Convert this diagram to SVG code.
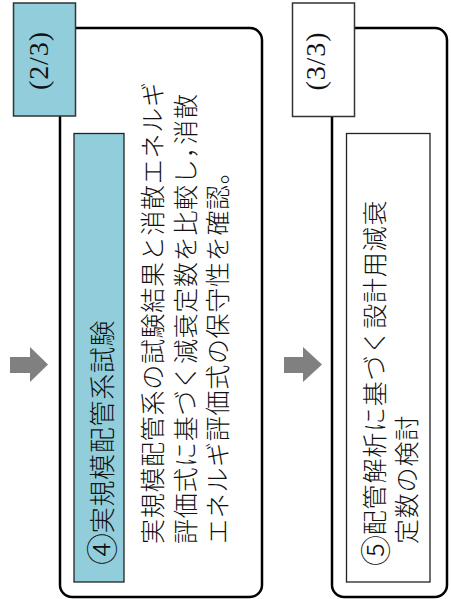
<svg xmlns="http://www.w3.org/2000/svg" width="451" height="599" viewBox="0 0 451 599">
<style>
.frame{fill:#fff;stroke:#000;stroke-width:2.5}
.tab{stroke:#333;stroke-width:1.5}
.inner{stroke:#222;stroke-width:1.3}
.blue{fill:#92CDDC}
.white{fill:#fff}
.jp{font-family:"Noto Sans CJK JP","Noto Sans CJK SC",sans-serif;font-weight:300;fill:#111;dominant-baseline:central}
.tabt{font-family:"Liberation Serif",serif;font-size:28px;fill:#111;text-anchor:middle}
.arrow{fill:#808080}
</style>
<rect width="451" height="599" fill="#fff"/>
<g id="connectors">
  <polygon class="arrow" points="10,357 30,357 30,347 48,364.5 30,382 30,373 10,373"/>
  <polygon class="arrow" points="284,357 303,357 303,347 322,364.5 303,382 303,373 284,373"/>
</g>
<g id="step4">
  <rect class="frame" x="60" y="28" width="202" height="569" rx="12"/>
  <rect class="tab blue" x="13.5" y="3" width="62" height="113"/>
  <text class="tabt" textLength="58" transform="translate(48,61) rotate(-90)">(2/3)</text>
  <rect class="inner blue" x="74" y="133.5" width="50" height="448.5"/>
  <text class="jp" font-size="26" letter-spacing="0.7" transform="translate(100,565) rotate(-90)"><tspan font-size="32">④</tspan><tspan dx="-1">実規模配管系試験</tspan></text>
  <text class="jp" font-size="25" letter-spacing="0.7" transform="translate(151,544) rotate(-90)">実規模配管系の試験結果と消散エネルギ</text>
  <text class="jp" font-size="25" letter-spacing="0.7" transform="translate(184,544) rotate(-90)">評価式に基づく減衰定数を比較し，<tspan dx="-12">消散</tspan></text>
  <text class="jp" font-size="25" letter-spacing="0.7" transform="translate(216,544) rotate(-90)">エネルギ評価式の保守性を確認。</text>
</g>
<g id="step5">
  <rect class="frame" x="332" y="28" width="115" height="569" rx="12"/>
  <rect class="tab white" x="292.5" y="3" width="62" height="113.5"/>
  <text class="tabt" textLength="58" transform="translate(324.5,61.5) rotate(-90)">(3/3)</text>
  <rect class="inner white" x="346.5" y="133.5" width="83.5" height="448.5"/>
  <text class="jp" font-size="25" letter-spacing="0.8" transform="translate(373,566) rotate(-90)"><tspan font-size="31">⑤</tspan><tspan dx="-1">配管解析に基づく設計用減衰</tspan></text>
  <text class="jp" font-size="25" letter-spacing="0.8" transform="translate(405,544) rotate(-90)">定数の検討</text>
</g>
</svg>
